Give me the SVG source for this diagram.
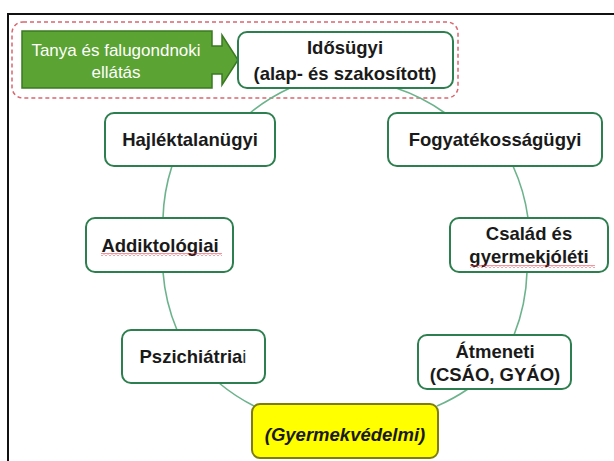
<svg xmlns="http://www.w3.org/2000/svg" width="614" height="461" viewBox="0 0 614 461">
  <style>
    .box { fill: #ffffff; stroke: #2e7f4f; stroke-width: 2; }
    .lbl { font-family: "Liberation Sans", Arial, sans-serif; font-size: 18.5px; font-weight: bold; fill: #1a1a1a; text-anchor: middle; }
    .wht { font-family: "Liberation Sans", Arial, sans-serif; font-size: 17px; fill: #ffffff; text-anchor: middle; }
    .link { fill: none; stroke: #6cb38c; stroke-width: 1.6; }
  </style>
  <defs>
    <pattern id="squiggle" width="4" height="3" patternUnits="userSpaceOnUse">
      <polyline points="0,2.5 2,0.5 4,2.5" fill="none" stroke="#e0303a" stroke-width="1"/>
    </pattern>
  </defs>

  <rect x="0" y="0" width="614" height="461" fill="#ffffff"/>

  <!-- page frame -->
  <path d="M8,461 V14 H614" fill="none" stroke="#111111" stroke-width="2"/>

  <!-- dashed grouping around the elderly-care block -->
  <rect x="12" y="22" width="446" height="76" rx="11" fill="none" stroke="#d9656f" stroke-width="1.5" stroke-dasharray="4 3"/>

  <!-- ring connectors -->
  <g id="connectors">
    <path class="link" d="M250,113 A185,185 0 0 1 290,88"/>
    <path class="link" d="M396,88 A185,185 0 0 1 445,113"/>
    <path class="link" d="M513,166 A185,185 0 0 1 528,218"/>
    <path class="link" d="M527,272 A185,185 0 0 1 514,335"/>
    <path class="link" d="M468,389 A185,185 0 0 1 437,406"/>
    <path class="link" d="M254,406 A185,185 0 0 1 219,383"/>
    <path class="link" d="M177,330 A185,185 0 0 1 163,272"/>
    <path class="link" d="M163,218 A185,185 0 0 1 172,166"/>
  </g>

  <g id="tanya">
    <path d="M22,31 H212 V46 H222 V35 L238,60 L222,85 V74 H212 V88 H22 Z" fill="#5ba332" stroke="#3a7a22" stroke-width="1.5"/>
    <text class="wht" x="116" y="56">Tanya és falugondnoki</text>
    <text class="wht" x="116" y="78">ellátás</text>
  </g>

  <g id="idosugyi">
    <rect class="box" x="238" y="32" width="215" height="56" rx="9"/>
    <text class="lbl" x="345" y="54">Idősügyi</text>
    <text class="lbl" x="345" y="80">(alap- és szakosított)</text>
  </g>

  <g id="hajlektalan">
    <rect class="box" x="105" y="113" width="170" height="53" rx="9"/>
    <text class="lbl" x="190" y="146">Hajléktalanügyi</text>
  </g>

  <g id="fogyatekossag">
    <rect class="box" x="388" y="113" width="214" height="53" rx="9"/>
    <text class="lbl" x="495" y="146">Fogyatékosságügyi</text>
  </g>

  <g id="addiktologia">
    <rect class="box" x="86" y="218" width="147" height="54" rx="9"/>
    <text class="lbl" x="160" y="252">Addiktológiai</text>
    <rect x="101" y="253" width="121" height="3" fill="url(#squiggle)"/>
  </g>

  <g id="csalad">
    <rect class="box" x="450" y="218" width="158" height="54" rx="9"/>
    <text class="lbl" x="529" y="240">Család és</text>
    <text class="lbl" x="529" y="263">gyermekjóléti</text>
    <rect x="470" y="265" width="125" height="3" fill="url(#squiggle)"/>
  </g>

  <g id="pszichiatria">
    <rect class="box" x="122" y="330" width="143" height="53" rx="9"/>
    <text class="lbl" x="193" y="363">Pszichiátria<tspan font-weight="normal" fill="#333333">i</tspan></text>
  </g>

  <g id="atmeneti">
    <rect class="box" x="418" y="335" width="153" height="54" rx="9"/>
    <text class="lbl" x="495" y="358">Átmeneti</text>
    <text class="lbl" x="495" y="381">(CSÁO, GYÁO)</text>
  </g>

  <g id="gyermekvedelmi">
    <rect x="252" y="404" width="186" height="54" rx="8" fill="#ffff00" stroke="#7c7c10" stroke-width="2"/>
    <text class="lbl" x="345" y="441" font-style="italic" fill="#111111">(Gyermekvédelmi)</text>
  </g>
</svg>
